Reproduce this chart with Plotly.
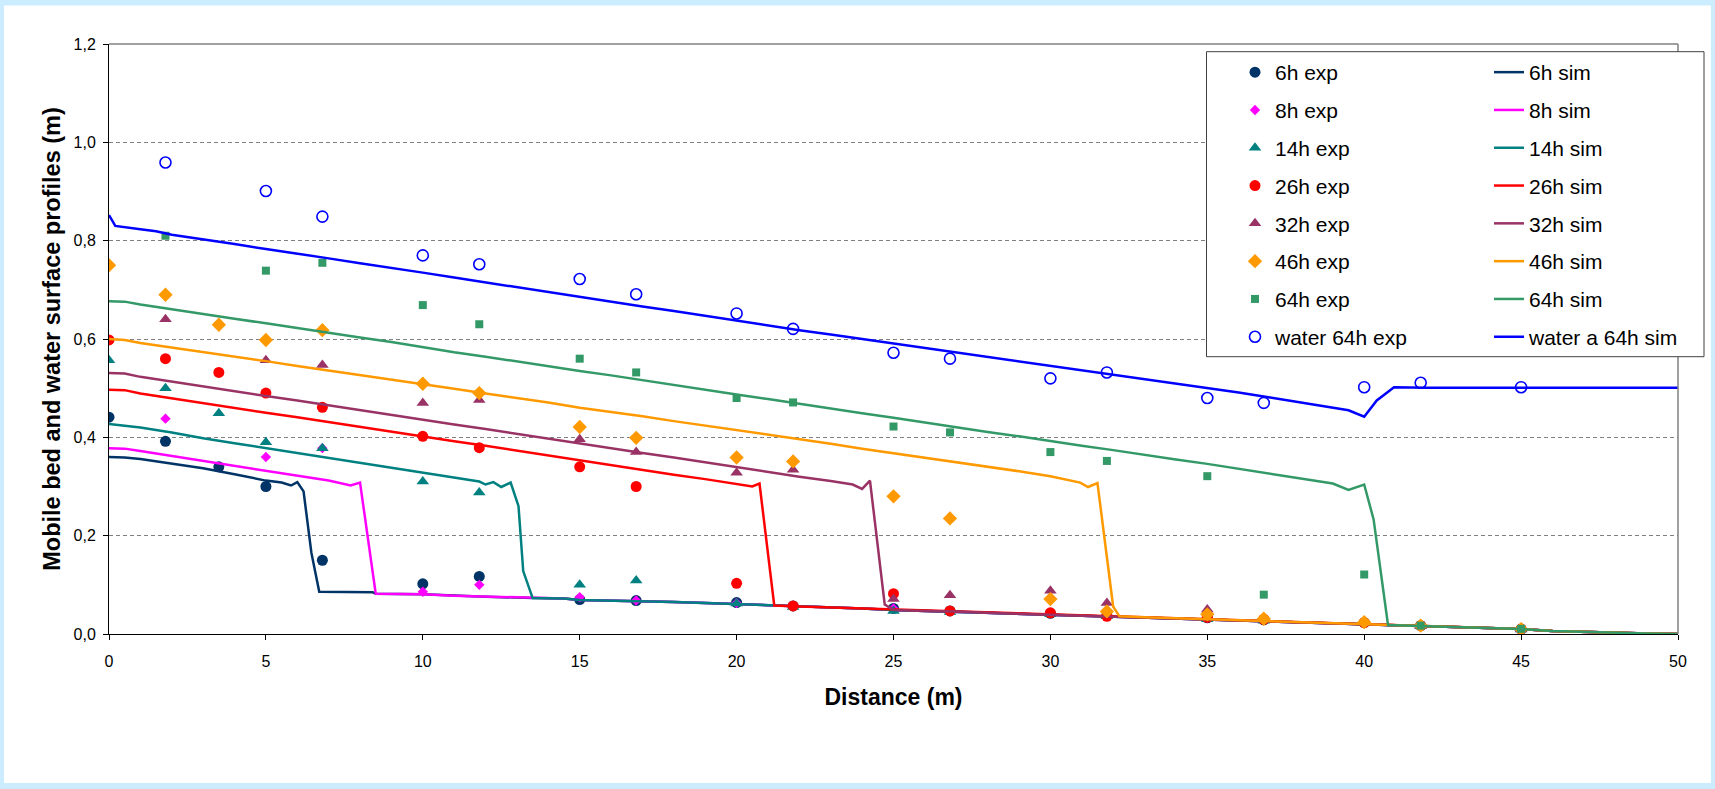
import plotly.graph_objects as go

# ---------------- data ----------------
X_EXP = [0, 1.8, 3.5, 5, 6.8, 10, 11.8, 15, 16.8, 20, 21.8, 25, 26.8, 30, 31.8, 35, 36.8, 40, 41.8, 45]

EXP_6H = [0.441, 0.392, 0.34, 0.30, 0.15, 0.102, 0.117, 0.07, 0.068, 0.064, 0.057, 0.052, 0.047, 0.042, 0.038, 0.033, 0.029, 0.023, 0.017, 0.01]
EXP_8H = [None, 0.438, None, 0.36, 0.378, 0.086, 0.10, 0.075, 0.068, 0.063, 0.057, 0.052, 0.047, 0.042, 0.038, 0.033, 0.029, 0.023, 0.017, 0.01]
EXP_14H = [0.557, 0.50, 0.449, 0.39, 0.378, 0.31, 0.288, 0.10, 0.109, 0.062, 0.055, 0.047, 0.045, 0.04, 0.036, 0.03, 0.027, 0.022, 0.016, 0.009]
EXP_26H = [0.598, 0.56, 0.532, 0.49, 0.461, 0.402, 0.379, 0.34, 0.30, 0.103, 0.057, 0.082, 0.047, 0.043, 0.036, 0.034, 0.03, 0.023, 0.017, 0.01]
EXP_32H = [None, 0.64, None, 0.557, 0.547, 0.47, 0.476, 0.396, 0.37, 0.328, 0.334, 0.071, 0.079, 0.088, 0.063, 0.05, 0.03, 0.023, 0.017, 0.01]
EXP_46H = [0.75, 0.69, 0.629, 0.598, 0.618, 0.509, 0.49, 0.421, 0.399, 0.359, 0.351, 0.28, 0.235, 0.071, 0.046, 0.04, 0.031, 0.024, 0.017, 0.01]
EXP_64H = [None, 0.81, None, 0.739, 0.755, 0.669, 0.63, 0.56, 0.532, 0.48, 0.471, 0.422, 0.41, 0.37, 0.352, 0.321, 0.08, 0.121, 0.017, 0.0105]
EXP_WATER = [None, 0.959, None, 0.901, 0.849, 0.770, 0.752, 0.722, 0.691, 0.652, 0.6205, 0.572, 0.56, 0.52, 0.532, 0.48, 0.47, 0.502, 0.511, 0.502]

# downstream (eroded) bed shared by all simulated bed profiles
BED_X = [8.5, 10, 11, 12, 13.5, 14.5, 15, 16, 17, 18, 19, 20, 21.2, 22, 23, 24, 25, 26, 27, 28, 29, 30,
         31, 32, 33, 34, 35, 36, 37, 38, 39, 40, 41, 42, 43, 44, 45, 46, 47, 48, 49, 50]
BED_Z = [0.082, 0.081, 0.078, 0.076, 0.073, 0.072, 0.069, 0.068, 0.067, 0.065, 0.063, 0.061, 0.058, 0.056,
         0.054, 0.052, 0.049, 0.047, 0.046, 0.043, 0.041, 0.039, 0.037, 0.036, 0.034, 0.032, 0.030, 0.028,
         0.026, 0.024, 0.022, 0.020, 0.018, 0.016, 0.014, 0.012, 0.010, 0.006, 0.004, 0.002, 0.001, 0.0]

SIM_6H_X = [0, 0.5, 1, 2, 3, 4, 5, 5.5, 5.8, 6.0, 6.2, 6.45, 6.7, 8.4]
SIM_6H_Z = [0.36, 0.359, 0.356, 0.346, 0.337, 0.325, 0.312, 0.308, 0.302, 0.309, 0.29, 0.165, 0.086, 0.085]

SIM_8H_X = [0, 0.5, 1, 2, 3, 4, 5, 6, 7, 7.7, 8.0]
SIM_8H_Z = [0.378, 0.377, 0.372, 0.362, 0.352, 0.343, 0.333, 0.322, 0.312, 0.302, 0.308]

SIM_14H_X = [0, 0.5, 1, 2, 3, 4, 5, 6, 7, 8, 9, 10, 11, 11.8, 12.0, 12.25, 12.5, 12.8, 13.05, 13.2, 13.5]
SIM_14H_Z = [0.427, 0.424, 0.42, 0.41, 0.398, 0.388, 0.378, 0.368, 0.358, 0.348, 0.338, 0.328, 0.318, 0.31,
             0.304, 0.309, 0.299, 0.308, 0.26, 0.128, 0.073]

SIM_26H_X = [0, 0.5, 1, 2, 3, 4, 5, 6, 7, 8, 9, 10, 11, 12, 13, 14, 15, 16, 17, 18, 19, 20, 20.5, 20.73, 21.2]
SIM_26H_Z = [0.497, 0.496, 0.489, 0.479, 0.470, 0.460, 0.450, 0.441, 0.431, 0.421, 0.412, 0.402, 0.392, 0.383,
             0.373, 0.363, 0.353, 0.344, 0.334, 0.324, 0.315, 0.305, 0.300, 0.306, 0.058]

SIM_32H_X = [0, 0.5, 1, 2, 3, 4, 5, 6, 7, 8, 9, 10, 11, 12, 13, 14, 15, 16, 17, 18, 19, 20, 21, 22, 23,
             23.7, 24.0, 24.25, 24.72]
SIM_32H_Z = [0.531, 0.530, 0.523, 0.513, 0.504, 0.494, 0.484, 0.475, 0.465, 0.455, 0.446, 0.436, 0.426, 0.417,
             0.407, 0.397, 0.388, 0.378, 0.368, 0.359, 0.349, 0.339, 0.330, 0.320, 0.311, 0.304, 0.295, 0.312, 0.06]

SIM_46H_X = [0, 0.5, 1, 2, 3, 4, 5, 6, 7, 8, 9, 10, 11, 12, 13, 14, 15, 16, 17, 18, 19, 20, 21, 22, 23, 24,
             25, 26, 27, 28, 29, 30, 30.95, 31.2, 31.5, 32.0, 32.2]
SIM_46H_Z = [0.600, 0.598, 0.592, 0.583, 0.573, 0.564, 0.555, 0.545, 0.536, 0.527, 0.517, 0.508, 0.499, 0.489,
             0.480, 0.471, 0.460, 0.452, 0.443, 0.433, 0.424, 0.415, 0.405, 0.396, 0.387, 0.377, 0.368, 0.359,
             0.349, 0.340, 0.331, 0.321, 0.308, 0.299, 0.307, 0.056, 0.036]

SIM_64H_X = [0, 0.5, 1, 2, 3, 4, 5, 6, 7, 8, 9, 10, 11, 12, 13, 14, 15, 16, 17, 18, 19, 20, 21, 22, 23, 24,
             25, 26, 27, 28, 29, 30, 31, 32, 33, 34, 35, 36, 37, 38, 39, 39.5, 40.0, 40.3, 40.76]
SIM_64H_Z = [0.677, 0.676, 0.670, 0.660, 0.651, 0.641, 0.632, 0.622, 0.613, 0.603, 0.594, 0.583, 0.573, 0.564,
             0.554, 0.545, 0.535, 0.526, 0.516, 0.506, 0.497, 0.487, 0.478, 0.468, 0.459, 0.449, 0.440, 0.430,
             0.421, 0.411, 0.402, 0.392, 0.383, 0.374, 0.364, 0.355, 0.346, 0.336, 0.327, 0.317, 0.306, 0.293,
             0.304, 0.233, 0.018]

SIM_WATER_X = [0, 0.2, 1, 1.5, 2, 3, 4, 5, 6, 7, 8, 9, 10, 11, 12, 13, 14, 15, 16, 17, 18, 19, 20, 21, 22,
               23, 24, 25, 26, 27, 28, 29, 30, 31, 32, 33, 34, 35, 36, 37, 38, 39, 39.5, 40.0, 40.4, 40.95, 42,
               45, 50]
SIM_WATER_Z = [0.852, 0.830, 0.823, 0.819, 0.812, 0.803, 0.793, 0.783, 0.774, 0.764, 0.754, 0.745, 0.735,
               0.725, 0.715, 0.706, 0.696, 0.686, 0.676, 0.666, 0.657, 0.647, 0.637, 0.628, 0.618, 0.609,
               0.600, 0.590, 0.581, 0.572, 0.563, 0.554, 0.545, 0.536, 0.527, 0.518, 0.509, 0.500, 0.491,
               0.481, 0.471, 0.460, 0.455, 0.442, 0.475, 0.502, 0.501, 0.501, 0.501]

SERIES = ["6h", "8h", "14h", "26h", "32h", "46h", "64h"]
COLORS = ["#003366", "#FF00FF", "#008080", "#FF0000", "#993366", "#FF9900", "#339966"]
SYMBOLS = ["circle", "diamond", "triangle-up", "circle", "triangle-up", "diamond", "square"]
SIZES = [11, 8, 11, 11, 11, 11, 8]
EXP = [EXP_6H, EXP_8H, EXP_14H, EXP_26H, EXP_32H, EXP_46H, EXP_64H]
SIM = [(SIM_6H_X, SIM_6H_Z), (SIM_8H_X, SIM_8H_Z), (SIM_14H_X, SIM_14H_Z), (SIM_26H_X, SIM_26H_Z),
       (SIM_32H_X, SIM_32H_Z), (SIM_46H_X, SIM_46H_Z), (SIM_64H_X, SIM_64H_Z)]

WATER_COLOR = "#0000FF"
FONT = "Liberation Sans, Arial, sans-serif"

# ---------------- layout geometry (pixels) ----------------
W, H = 1715, 789
L, R, T, B = 109, 37, 44, 155
PW, PH = W - L - R, H - T - B


def px(x):
    return (x - L) / PW


def py(y):
    return (H - B - y) / PH


fig = go.Figure()

for i, name in enumerate(SERIES):
    sx, sz = SIM[i]
    front = sx[-1]
    full_x = list(sx) + [bx for bx in BED_X if bx > front + 0.05]
    full_z = list(sz) + [bz for bx, bz in zip(BED_X, BED_Z) if bx > front + 0.05]
    fig.add_trace(go.Scatter(
        x=X_EXP, y=EXP[i], mode="markers", name=f"{name} exp",
        marker=dict(symbol=SYMBOLS[i], size=SIZES[i], color=COLORS[i]),
        legend="legend", legendgroup=f"e{name}"))
    fig.add_trace(go.Scatter(
        x=full_x, y=full_z, mode="lines", name=f"{name} sim",
        line=dict(color=COLORS[i], width=2.5),
        legend="legend2", legendgroup=f"s{name}"))

fig.add_trace(go.Scatter(
    x=X_EXP, y=EXP_WATER, mode="markers", name="water 64h exp",
    marker=dict(symbol="circle-open", size=11, color=WATER_COLOR, line=dict(width=1.6, color=WATER_COLOR)),
    legend="legend", legendgroup="ewater"))
fig.add_trace(go.Scatter(
    x=SIM_WATER_X, y=SIM_WATER_Z, mode="lines", name="water a 64h sim",
    line=dict(color=WATER_COLOR, width=2.5),
    legend="legend2", legendgroup="swater"))

legend_common = dict(
    font=dict(family=FONT, size=21, color="black"),
    bgcolor="rgba(0,0,0,0)", borderwidth=0,
    tracegroupgap=7.5, itemclick=False, itemdoubleclick=False,
    yanchor="top", xanchor="left", y=py(52), itemwidth=30,
)

fig.update_layout(
    width=W, height=H,
    margin=dict(l=L, r=R, t=T, b=B, pad=0),
    paper_bgcolor="#CCECFF",
    plot_bgcolor="white",
    separators=",.",
    font=dict(family=FONT, size=16, color="black"),
    showlegend=True,
    legend=dict(x=px(1235), **legend_common),
    legend2=dict(x=px(1489), **legend_common),
    xaxis=dict(
        range=[0, 50], dtick=5, tick0=0, showgrid=False, zeroline=False,
        showline=True, linecolor="black", linewidth=1,
        ticks="outside", ticklen=5, tickcolor="black", tickwidth=1,
        ticklabelstandoff=8,
        tickfont=dict(family=FONT, size=16, color="black"),
        title=dict(text="Distance (m)", standoff=19,
                   font=dict(family=FONT, size=23, color="black", weight="bold")),
    ),
    yaxis=dict(
        range=[0, 1.2], dtick=0.2, tick0=0, tickformat=".1f",
        showgrid=True, gridcolor="#808080", gridwidth=1, griddash="4px,3px",
        zeroline=False, showline=True, linecolor="black", linewidth=1,
        ticks="outside", ticklen=5, tickcolor="black", tickwidth=1,
        ticklabelstandoff=4,
        tickfont=dict(family=FONT, size=16, color="black"),
        title=dict(text="Mobile bed and water surface profiles (m)", standoff=6,
                   font=dict(family=FONT, size=23.5, color="black", weight="bold")),
    ),
    shapes=[
        # white chart area inside the light-blue frame
        dict(type="rect", xref="paper", yref="paper", layer="below",
             x0=px(4), x1=px(1711), y0=py(783), y1=py(5.5),
             fillcolor="white", line=dict(width=0)),
        # top and right plot borders
        dict(type="line", xref="paper", yref="paper", layer="above",
             x0=0, x1=1, y0=1, y1=1, line=dict(color="#808080", width=1.5)),
        dict(type="line", xref="paper", yref="paper", layer="above",
             x0=1, x1=1, y0=0, y1=1, line=dict(color="#808080", width=1.5)),
        # legend box
        dict(type="rect", xref="paper", yref="paper", layer="above",
             x0=px(1206.5), x1=px(1704), y0=py(356.7), y1=py(51.7),
             fillcolor="white", line=dict(color="#404040", width=1)),
    ],
)

fig.write_html("out.html")
